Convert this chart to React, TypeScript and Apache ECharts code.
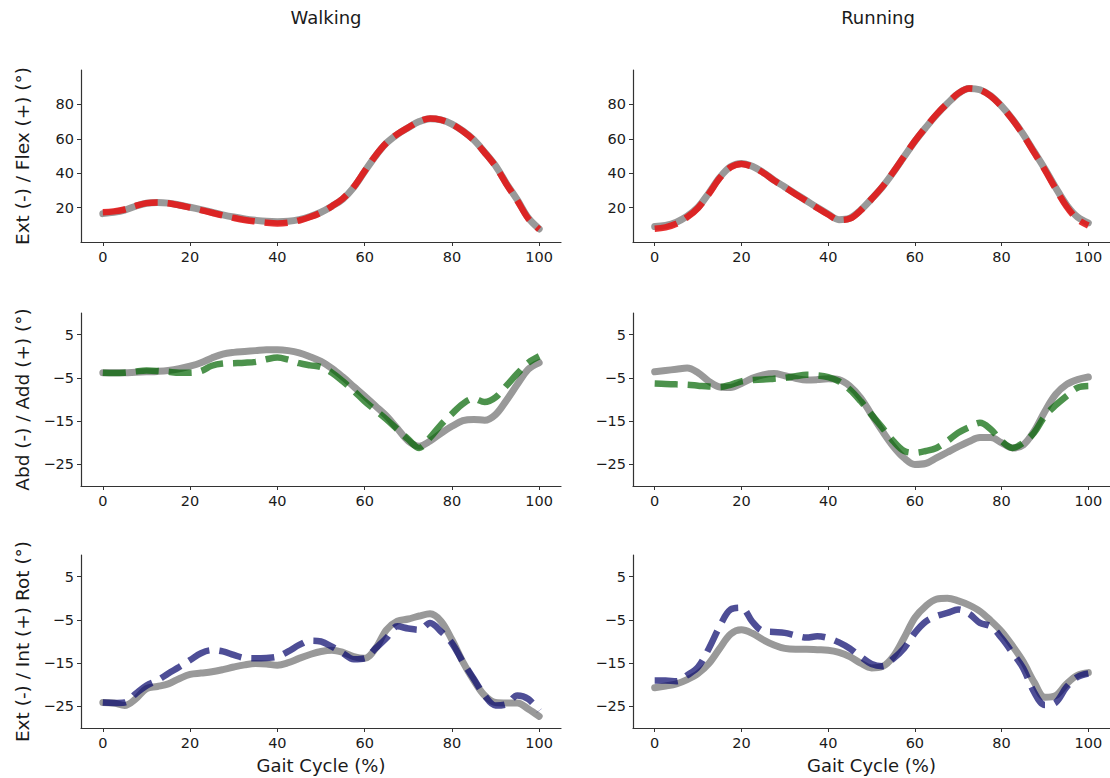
import React, { useEffect, useRef } from "react";
import * as echarts from "echarts";

const gaitX = [0, 2.5, 5, 7.5, 10, 12.5, 15, 17.5, 20, 22.5, 25, 27.5, 30, 32.5, 35, 37.5, 40, 42.5, 45, 47.5, 50, 52.5, 55, 57.5, 60, 62.5, 65, 67.5, 70, 72.5, 75, 77.5, 80, 82.5, 85, 87.5, 90, 92.5, 95, 97.5, 100];

const walkFlexRef = [16.5, 17.2, 18.5, 20.8, 22.5, 23, 22.6, 21.5, 20.2, 18.8, 17.3, 15.8, 14.5, 13.4, 12.6, 12, 11.8, 12, 13, 14.8, 17.3, 20.8, 25, 31.8, 41, 50, 57.5, 62.6, 66.5, 70, 71.7, 71, 68.6, 64.6, 59.4, 52.2, 44.3, 34, 24.5, 14, 7.6];
const walkFlexSub = [17.3, 17.8, 18.9, 21, 22.6, 23, 22.5, 21.4, 20, 18.5, 17, 15.4, 14, 12.8, 12, 11.2, 10.8, 11.2, 12.5, 14.5, 17.1, 20.8, 25.2, 32, 41.2, 50.2, 57.6, 62.7, 66.6, 70.1, 71.8, 71, 68.5, 64.4, 59.2, 52, 44, 33.6, 24, 13.6, 7.4];

const runFlexRef = [9, 9.6, 11.5, 15, 20.2, 28.5, 37.5, 43.8, 45.7, 44, 40.5, 36, 32, 28, 24, 20, 16.3, 13, 13.8, 18.5, 25, 32, 40.4, 49.5, 58.5, 66.5, 74, 80.5, 86.3, 89.3, 88.5, 85, 79, 71.5, 62.6, 52.5, 42.4, 31.5, 21.5, 14.5, 11.1];
const runFlexSub = [7.7, 8.5, 10.6, 14.4, 19.8, 28, 37.2, 43.4, 45.3, 43.8, 40.3, 35.8, 31.8, 27.8, 23.8, 19.8, 16, 12.8, 13.6, 18.4, 25, 32.1, 40.6, 49.7, 58.7, 66.7, 74.2, 80.6, 86.4, 89.3, 88.4, 84.8, 78.8, 71.2, 62.2, 52, 41.8, 30.8, 20.6, 13.2, 9.6];

const walkAbdRef = [-3.8, -3.8, -3.8, -3.7, -3.6, -3.5, -3.3, -2.9, -2.3, -1.5, -0.4, 0.5, 0.9, 1.1, 1.3, 1.5, 1.5, 1.3, 0.8, -0.1, -1.2, -2.8, -4.8, -7, -9.2, -11.5, -13.8, -16.7, -19.6, -20.8, -19.6, -17.8, -16.2, -14.9, -14.6, -14.8, -13.5, -10.2, -6.5, -3, -1.5];
const walkAbdSub = [-3.8, -3.9, -3.8, -3.5, -3.3, -3.4, -3.6, -3.8, -3.8, -3.4, -2.2, -1.7, -1.6, -1.5, -1.3, -0.7, -0.3, -0.8, -1.6, -2.1, -2.5, -3.8, -5.8, -8, -10.4, -12.5, -14.6, -16.9, -19.2, -21.2, -18.8, -15.8, -13.3, -11, -9.8, -10.6, -9.5, -6.8, -4, -1.5, 0];

const runAbdRef = [-3.6, -3.3, -3.0, -2.7, -3.8, -5.8, -7.1, -7.2, -6.3, -5.1, -4.3, -4.0, -4.5, -5.1, -5.5, -5.4, -5.2, -5.4, -6.9, -9.6, -13.5, -17.3, -20.8, -23.5, -25, -24.8, -23.5, -22.2, -20.9, -19.7, -18.8, -18.8, -20, -21.2, -20.5, -17.3, -12.7, -8.8, -6.5, -5.4, -4.8];
const runAbdSub = [-6.3, -6.4, -6.5, -6.6, -6.8, -7, -7.1, -6.6, -5.8, -5.5, -5.4, -5.2, -5, -4.6, -4.3, -4.4, -4.8, -5.8, -7.7, -10.4, -13.5, -16.5, -19.6, -21.9, -22.3, -21.9, -21.2, -19.6, -17.7, -16.4, -15.4, -16.9, -19.6, -21.2, -20, -17.7, -13.8, -11.3, -9.2, -7.3, -6.9];

const walkRotRef = [-24.1, -24.2, -24.8, -23.3, -20.9, -20.4, -19.8, -18.6, -17.6, -17.3, -17, -16.5, -15.9, -15.4, -15.1, -15.2, -15.5, -14.9, -13.9, -13, -12.3, -12, -12.5, -13.5, -13.9, -11.6, -7.3, -5.3, -4.8, -4.1, -3.6, -5.3, -9.6, -14.7, -19, -22.5, -24.1, -24.2, -24.2, -25.6, -27.3];
const walkRotSub = [-24.1, -24.2, -24.1, -22.1, -20.2, -19, -17.4, -15.9, -14.3, -12.7, -12, -12.3, -13.1, -13.8, -13.9, -13.8, -13.5, -12.3, -10.8, -9.8, -10, -11.2, -12.7, -14.1, -13.9, -11.6, -9.2, -6.5, -7, -7.3, -5.7, -7.7, -10.4, -14.7, -18.6, -22.5, -24.8, -24.5, -22.5, -23.3, -26];

const runRotRef = [-20.7, -20.3, -19.8, -18.8, -17.4, -15.1, -11.6, -8.3, -7.3, -8.1, -9.6, -10.8, -11.6, -11.8, -11.8, -11.9, -12, -12.5, -13.5, -15, -16.1, -15.8, -13.5, -9.2, -4.5, -1.8, -0.2, 0, -0.6, -1.6, -3, -5.2, -7.7, -11, -14.7, -19.4, -22.9, -22.5, -19.8, -17.8, -17.2];
const runRotSub = [-19, -19, -19.2, -17.8, -15.9, -11.6, -6.5, -2.6, -2.2, -5.4, -7.6, -7.8, -8, -8.6, -9.1, -8.8, -9.2, -10.2, -11.6, -13.5, -15.2, -15.7, -14, -11.6, -8, -5.4, -4.1, -3.4, -2.6, -3.6, -5.7, -6.5, -9.2, -12.6, -16.2, -21.7, -24.7, -24.1, -20.5, -18.2, -17.4];

const colTitles = ["Walking", "Running"];
const rowLabels = ["Ext (-) / Flex (+) (°)", "Abd (-) / Add (+) (°)", "Ext (-) / Int (+) Rot (°)"];
const xTicks = [0, 20, 40, 60, 80, 100];
const flexTicks = [20, 40, 60, 80];
const angleTicks = [-25, -15, -5, 5];
const xLabel = "Gait Cycle (%)";

const refSeries = [[walkFlexRef, runFlexRef], [walkAbdRef, runAbdRef], [walkRotRef, runRotRef]];
const subSeries = [[walkFlexSub, runFlexSub], [walkAbdSub, runAbdSub], [walkRotSub, runRotSub]];
const rowColors = ["rgba(228,20,20,0.88)", "rgba(0,100,0,0.7)", "rgba(10,10,110,0.72)"];
const rowRanges = [[0, 100], [-30, 10], [-30, 10]];
const rowTicks = [flexTicks, angleTicks, angleTicks];

const FONT = "DejaVu Sans";
const TXT = "#1a1a1a";

export default function App() {
  const ref = useRef<HTMLDivElement>(null);
  useEffect(() => {
    if (!ref.current) return;
    const chart = echarts.init(ref.current, null, { renderer: "svg" });
    const colLeft = [81, 633];
    const gridW = 480;
    const rowTop = [70, 313, 555];
    const rowH = [172, 173, 173];
    const grids: any[] = [];
    const xAxes: any[] = [];
    const yAxes: any[] = [];
    const series: any[] = [];
    const fmt = (v: number) => String(v).replace("-", "\u2212");
    for (let r = 0; r < 3; r++) {
      for (let c = 0; c < 2; c++) {
        const i = grids.length;
        grids.push({ left: colLeft[c], top: rowTop[r], width: gridW, height: rowH[r], containLabel: false });
        xAxes.push({
          type: "value",
          gridIndex: i,
          min: -5,
          max: 105,
          splitLine: { show: false },
          axisLine: { show: true, onZero: false, lineStyle: { color: "#333", width: 1.2 } },
          axisTick: { show: true, length: 4, lineStyle: { color: "#333" }, customValues: xTicks },
          axisLabel: { color: TXT, fontSize: 14.5, fontFamily: FONT, margin: 7, customValues: xTicks, formatter: fmt },
          name: r === 2 ? xLabel : "",
          nameLocation: "middle",
          nameGap: 28,
          nameTextStyle: { color: TXT, fontSize: 18, fontFamily: FONT },
        });
        yAxes.push({
          type: "value",
          gridIndex: i,
          min: rowRanges[r][0],
          max: rowRanges[r][1],
          splitLine: { show: false },
          axisLine: { show: true, onZero: false, lineStyle: { color: "#333", width: 1.2 } },
          axisTick: { show: true, length: 4, lineStyle: { color: "#333" }, customValues: rowTicks[r] },
          axisLabel: { color: TXT, fontSize: 14.5, fontFamily: FONT, margin: 7, customValues: rowTicks[r], formatter: fmt },
          name: c === 0 ? rowLabels[r] : "",
          nameLocation: "middle",
          nameGap: 49,
          nameRotate: 90,
          nameTextStyle: { color: TXT, fontSize: 18.5, fontFamily: FONT },
        });
        series.push({
          type: "line",
          xAxisIndex: i,
          yAxisIndex: i,
          data: gaitX.map((x, k) => [x, refSeries[r][c][k]]),
          showSymbol: false,
          smooth: 0.35,
          lineStyle: { color: "rgb(153,153,153)", width: 7, cap: "round" },
          z: 2,
        });
        series.push({
          type: "line",
          xAxisIndex: i,
          yAxisIndex: i,
          data: gaitX.map((x, k) => [x, subSeries[r][c][k]]),
          showSymbol: false,
          smooth: 0.35,
          lineStyle: { color: rowColors[r], width: 6.5, type: [23, 10], cap: "butt" },
          z: 3,
        });
      }
    }
    chart.setOption({
      animation: false,
      backgroundColor: "#ffffff",
      title: colTitles.map((t, c) => ({
        text: t,
        left: colLeft[c] + gridW / 2,
        top: 3,
        textAlign: "center",
        textStyle: { color: TXT, fontSize: 18, fontWeight: "normal", fontFamily: FONT },
      })),
      grid: grids,
      xAxis: xAxes,
      yAxis: yAxes,
      series,
    });
    return () => chart.dispose();
  }, []);
  return <div ref={ref} style={{ position: "fixed", left: 0, top: 0, width: 1110, height: 778 }} />;
}
